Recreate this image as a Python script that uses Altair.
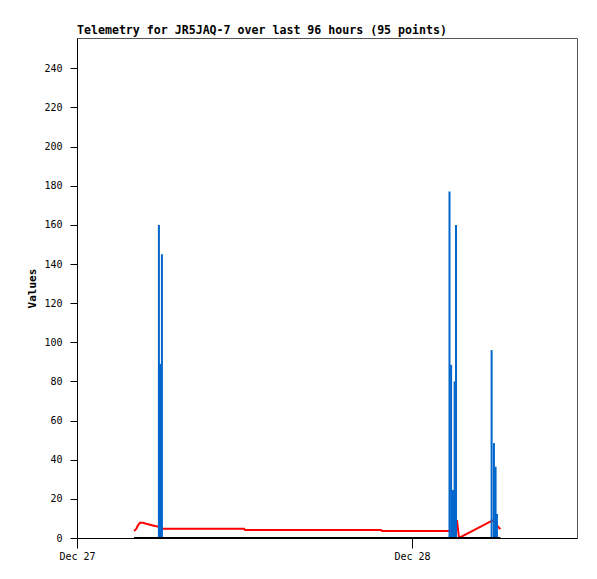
import altair as alt
import pandas as pd

title_text = "Telemetry for JR5JAQ-7 over last 96 hours (95 points)"

red_times = ["2023-12-27T04:05", "2023-12-27T04:14", "2023-12-27T04:22", "2023-12-27T04:31",
             "2023-12-27T04:44", "2023-12-27T04:57", "2023-12-27T05:14", "2023-12-27T05:31",
             "2023-12-27T05:48", "2023-12-27T05:57", "2023-12-27T11:58", "2023-12-27T12:02",
             "2023-12-27T21:47", "2023-12-27T21:51", "2023-12-28T03:09", "2023-12-28T03:13",
             "2023-12-28T03:22", "2023-12-28T05:46", "2023-12-28T06:05", "2023-12-28T06:11",
             "2023-12-28T06:20"]
red_values = [3.6, 4.5, 6.5, 7.8, 7.8, 7.3, 6.8, 6.3, 5.8, 4.7, 4.7, 4.1,
              4.1, 3.6, 3.6, 9.2, 0.0, 9.0, 6.6, 5.5, 4.6]

blue_times = ["2023-12-27T05:52", "2023-12-27T05:57", "2023-12-27T06:05",
              "2023-12-28T02:41", "2023-12-28T02:48", "2023-12-28T02:56", "2023-12-28T03:03",
              "2023-12-28T03:09", "2023-12-28T05:42", "2023-12-28T05:52", "2023-12-28T05:59",
              "2023-12-28T06:05"]
blue_values = [160, 89, 145, 177, 88.5, 24.5, 80, 160, 96, 48.5, 36.4, 12.3]

black_times = ["2023-12-27T04:05", "2023-12-28T06:20"]
black_values = [0, 0]

y_ticks = [0, 20, 40, 60, 80, 100, 120, 140, 160, 180, 200, 220, 240]

red = pd.DataFrame({"time": red_times, "value": red_values})
blue = pd.DataFrame({"time": blue_times, "value": blue_values})
black = pd.DataFrame({"time": black_times, "value": black_values})

x_scale = alt.Scale(domain=[alt.DateTime(year=2023, month=12, date=27, hours=0),
                            alt.DateTime(year=2023, month=12, date=28, hours=11, minutes=49)],
                    padding=0)
y_scale = alt.Scale(domain=[0, 255.5], nice=False, zero=True, padding=0)

x_axis = alt.Axis(title=None,
                  values=[alt.DateTime(year=2023, month=12, date=27),
                          alt.DateTime(year=2023, month=12, date=28)],
                  format="%b %d", tickSize=10, labelPadding=3, grid=False,
                  labelFontSize=10, labelFlush=False)
y_axis = alt.Axis(title="Values", values=y_ticks, tickSize=7, labelPadding=8, grid=False,
                  labelFontSize=10, titleFontSize=11, titleFontWeight="bold",
                  titleX=-45, titleY=250, titleAngle=270, titleAlign="center",
                  titleBaseline="middle")

line_red = alt.Chart(red).mark_line(color="#FF0000", strokeWidth=2).encode(
    x=alt.X("time:T", scale=x_scale, axis=x_axis),
    y=alt.Y("value:Q", scale=y_scale, axis=y_axis),
)
bars = alt.Chart(blue).mark_bar(color="#0066CC", size=2).encode(
    x=alt.X("time:T", scale=x_scale),
    y=alt.Y("value:Q", scale=y_scale),
)
line_black = alt.Chart(black).mark_line(color="#000000", strokeWidth=2).encode(
    x=alt.X("time:T", scale=x_scale),
    y=alt.Y("value:Q", scale=y_scale),
)

chart = alt.layer(line_red, bars, line_black).properties(
    width=500, height=500,
    title=alt.TitleParams(text=title_text, anchor="start", frame="group", offset=3,
                          baseline="bottom", dy=13),
    autosize=alt.AutoSizeParams(type="none"),
    padding={"left": 69, "top": 30, "right": 12, "bottom": 33},
).configure_view(stroke="#555555", strokeWidth=1).configure_axis(
    domainColor="#000000", tickColor="#000000", labelColor="#000000",
    titleColor="#000000", labelFont="DejaVu Sans Mono", titleFont="DejaVu Sans Mono",
    domainWidth=1, tickWidth=1,
).configure_title(
    font="DejaVu Sans Mono", fontSize=11.6, fontWeight="bold", color="#000000",
)

chart.save("out.html", embed_options={"renderer": "svg", "actions": False})
